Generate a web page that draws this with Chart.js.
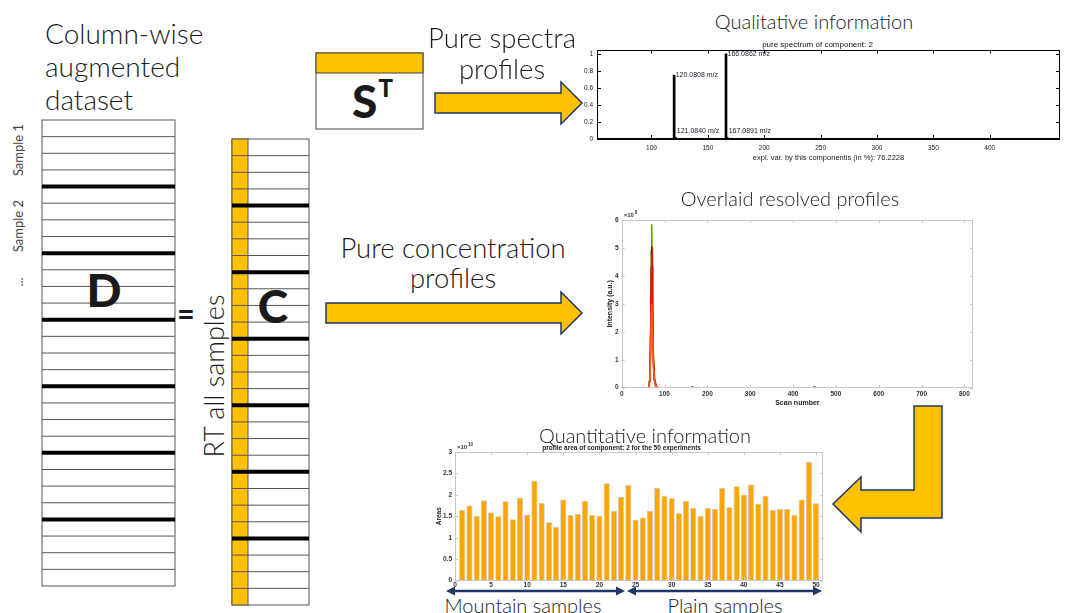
<!DOCTYPE html>
<html><head><meta charset="utf-8">
<script src="https://cdn.jsdelivr.net/npm/chart.js@4.4.1/dist/chart.umd.min.js"></script>
<style>
html,body{margin:0;padding:0;background:#fff}
body{width:1066px;height:613px;overflow:hidden;position:relative;font-family:Lato,'Open Sans',sans-serif}
.t{position:absolute;white-space:nowrap;line-height:1;color:#1a1a1a;font-weight:300}
canvas{position:absolute}
svg{position:absolute;left:0;top:0}
</style></head><body>
<svg id="diag" width="1066" height="613"></svg>
<canvas id="c1" width="490" height="130" style="left:575px;top:40px;width:490px;height:130px"></canvas>
<canvas id="c2" width="390" height="205" style="left:590px;top:205px;width:390px;height:205px"></canvas>
<canvas id="c3" width="410" height="150" style="left:420px;top:440px;width:410px;height:150px"></canvas>
<script>
// ---------- DATA ----------
// Pure spectrum (component 2)
const specMz = [120.0808, 121.0840, 166.0862, 167.0891];
const specInt = [0.75, 0.02, 1.0, 0.02];
const specLabels = ['120.0808 m/z', '121.0840 m/z', '166.0862 m/z', '167.0891 m/z'];
const specXTicks = [100, 150, 200, 250, 300, 350, 400];
const specYTicks = [0, 0.2, 0.4, 0.6, 0.8, 1];

// Overlaid resolved concentration profiles (x1e8)
const scanOrange = [0, 63, 66, 68, 70, 72, 74, 77, 82, 820];
const intOrange  = [0, 0, 0.3, 1.6, 3.0, 2.0, 0.7, 0.15, 0, 0];
const scanRed    = [0, 63, 66, 68, 69, 70, 71, 72, 74, 77, 81, 85, 820];
const intRed     = [0, 0, 0.3, 2.2, 4.0, 4.8, 4.3, 2.9, 1.0, 0.3, 0.06, 0, 0];
const scanDarkRed= [0, 63, 66, 68, 69, 70, 71, 72, 74, 76, 80, 84, 820];
const intDarkRed = [0, 0, 0.35, 2.4, 4.3, 5.05, 4.4, 2.9, 1.0, 0.3, 0.05, 0, 0];
const scanGreen  = [0, 63, 66, 68, 69, 70, 71, 72, 74, 76, 79, 83, 820];
const intGreen   = [0, 0, 0.4, 2.6, 4.9, 5.85, 5.0, 3.3, 1.2, 0.35, 0.06, 0, 0];
const scanBlue   = [0, 160, 165, 170, 445, 450, 455, 820];
const intBlue    = [0, 0, 0.04, 0, 0, 0.04, 0, 0];
const profXTicks = [0, 100, 200, 300, 400, 500, 600, 700, 800];
const profYTicks = [0, 1, 2, 3, 4, 5, 6];

// Profile areas of component 2 for the 50 experiments (x1e10)
const experiments = [1,2,3,4,5,6,7,8,9,10,11,12,13,14,15,16,17,18,19,20,21,22,23,24,25,
  26,27,28,29,30,31,32,33,34,35,36,37,38,39,40,41,42,43,44,45,46,47,48,49,50];
const areas = [1.65,1.75,1.51,1.87,1.59,1.50,1.85,1.43,1.93,1.54,
  2.33,1.81,1.36,1.25,1.89,1.53,1.55,1.86,1.53,1.51,
  2.27,1.63,1.95,2.23,1.42,1.47,1.63,2.16,1.97,1.92,
  1.57,1.86,1.69,1.51,1.69,1.67,2.16,1.71,2.20,2.00,
  2.24,1.79,1.98,1.65,1.67,1.67,1.53,1.89,2.76,1.80];
const areaXTicks = [0, 5, 10, 15, 20, 25, 30, 35, 40, 45, 50];
const areaYTicks = [0, 0.5, 1, 1.5, 2, 2.5, 3];

// ---------- DIAGRAM (shapes) ----------
const NS = 'http://www.w3.org/2000/svg';
const svg = document.getElementById('diag');
function el(tag, attrs){ const e = document.createElementNS(NS, tag); for (const k in attrs) e.setAttribute(k, attrs[k]); svg.appendChild(e); return e; }
const YEL = '#FFC000', NAVY = '#1F3864';
function matrix(x, y, w, h, rows, yellowW){
  el('rect', {x, y, width:w, height:h, fill:'#fff', stroke:'#555', 'stroke-width':1});
  if (yellowW) el('rect', {x, y, width:yellowW, height:h, fill:YEL, stroke:'#555', 'stroke-width':1});
  const rh = h / rows;
  for (let i = 1; i < rows; i++){
    const yy = y + i * rh;
    const thick = i % 4 === 0;
    el('line', {x1:x, x2:x+w, y1:yy, y2:yy, stroke: thick ? '#000' : '#555', 'stroke-width': thick ? 4 : 1});
  }
}
matrix(42, 120, 133, 466, 28, 0);
matrix(232, 139, 77, 466, 28, 16);
// S^T box
el('rect', {x:316, y:53, width:107, height:76, fill:'#fff', stroke:'#444', 'stroke-width':1});
el('rect', {x:316, y:53, width:107, height:20, fill:YEL, stroke:'#444', 'stroke-width':1});
// arrows
function poly(pts){ el('polygon', {points: pts.map(p => p.join(',')).join(' '), fill:YEL, stroke:NAVY, 'stroke-width':1.5, 'stroke-linejoin':'miter'}); }
poly([[435,93],[561,93],[561,82],[582,103],[561,124],[561,113],[435,113]]);
poly([[326,303],[561,303],[561,292],[582,313],[561,334],[561,323],[326,323]]);
poly([[914,406],[942,406],[942,518],[861,518],[861,532],[833,504],[861,477],[861,490],[914,490]]);
// double-headed arrows under bar chart
function dbl(x1, x2, y){
  el('line', {x1:x1+6, x2:x2-6, y1:y, y2:y, stroke:NAVY, 'stroke-width':2.5});
  el('polygon', {points:`${x1},${y} ${x1+9},${y-4.5} ${x1+9},${y+4.5}`, fill:NAVY});
  el('polygon', {points:`${x2},${y} ${x2-9},${y-4.5} ${x2-9},${y+4.5}`, fill:NAVY});
}
dbl(446, 625, 591);
dbl(627, 822, 591);

// ---------- TEXT ----------
function T(text, x, y, size, o = {}){
  const d = document.createElement('div');
  d.className = 't';
  d.innerHTML = text;
  d.style.fontSize = size + 'px';
  if (o.weight) d.style.fontWeight = o.weight;
  if (o.color) d.style.color = o.color;
  const ax = o.left ? '0' : '-50%';
  d.style.left = x + 'px'; d.style.top = y + 'px';
  d.style.transform = `translate(${ax},-50%)` + (o.rot ? ` rotate(${o.rot}deg)` : '');
  document.body.appendChild(d);
  return d;
}
T('Column-wise', 45, 33, 28, {left:true});
T('augmented', 45, 66, 28, {left:true});
T('dataset', 45, 99, 28, {left:true});
T('Sample 1', 18, 150, 13, {rot:-90, weight:400, color:'#444'});
T('Sample 2', 18, 226, 13, {rot:-90, weight:400, color:'#444'});
T('...', 18, 282, 13, {rot:-90, weight:400, color:'#444'});
T('D', 104, 290, 46, {weight:900});
T('=', 186, 313, 30, {weight:900});
T('C', 273, 306, 46, {weight:900});
T('RT all samples', 213, 376, 27, {rot:-90});
T('S<span style="font-size:24px;vertical-align:top;position:relative;top:-2px;left:1px">T</span>', 372, 101, 46, {weight:900});
T('Pure spectra', 502, 38, 27.5);
T('profiles', 502, 69, 27.5);
T('Pure concentration', 453, 248, 27.5);
T('profiles', 453, 278, 27.5);
T('Qualitative information', 814, 21, 20);
T('Overlaid resolved profiles', 790, 198, 20);
T('Quantitative information', 645, 435, 20);
T('Mountain samples', 523, 605, 20);
T('Plain samples', 725, 605, 20);

// ---------- CHARTS ----------
const frameTicks = {
  id: 'frameTicks',
  afterDatasetsDraw(chart, args, o){
    const {ctx, chartArea:a, scales:{x, y}} = chart;
    ctx.save();
    ctx.strokeStyle = o.color; ctx.lineWidth = 1;
    ctx.beginPath();
    const L = o.len;
    x.ticks.forEach(t => { const p = Math.round(x.getPixelForValue(t.value)) + 0.5;
      ctx.moveTo(p, a.bottom); ctx.lineTo(p, a.bottom - L);
      ctx.moveTo(p, a.top); ctx.lineTo(p, a.top + L); });
    y.ticks.forEach(t => { const p = Math.round(y.getPixelForValue(t.value)) + 0.5;
      ctx.moveTo(a.left, p); ctx.lineTo(a.left + L, p);
      ctx.moveTo(a.right, p); ctx.lineTo(a.right - L, p); });
    ctx.stroke();
    ctx.strokeRect(Math.round(a.left) + 0.5, Math.round(a.top) + 0.5, Math.round(a.width) - 1, Math.round(a.height) - 1);
    if (o.bottomWidth){
      ctx.lineWidth = o.bottomWidth;
      ctx.beginPath(); ctx.moveTo(a.left, a.bottom); ctx.lineTo(a.right, a.bottom); ctx.stroke();
    }
    if (o.exp){
      ctx.fillStyle = '#333';
      ctx.font = 'bold 6px "Liberation Sans", Arial, sans-serif';
      ctx.textBaseline = 'alphabetic'; ctx.textAlign = 'left';
      ctx.fillText('\u00d7' + '10', a.left + 2, a.top - 3);
      ctx.font = 'bold 4.5px "Liberation Sans", Arial, sans-serif';
      ctx.fillText(o.exp, a.left + 13, a.top - 6);
    }
    ctx.restore();
  }
};
const fixTicks = arr => scale => { scale.ticks = arr.map(v => ({value: v})); };
const fixW = w => s => { s.width = w; };
const fixH = h => s => { s.height = h; };
const plain = v => String(v);
const noGrid = {display: false, drawTicks: false};

// Chart 1: spectrum
const peakLabels = {
  id: 'peakLabels',
  afterDatasetsDraw(chart){
    const {ctx, scales:{x, y}} = chart;
    ctx.save();
    ctx.font = '7px "Liberation Sans Narrow", "Liberation Sans", Arial, sans-serif';
    ctx.fillStyle = '#1a1a2a'; ctx.textBaseline = 'middle'; ctx.textAlign = 'left';
    specMz.forEach((m, i) => {
      const v = Math.max(specInt[i], 0.09);
      ctx.fillText(specLabels[i], x.getPixelForValue(m) + 1.5, y.getPixelForValue(v));
    });
    ctx.restore();
  }
};
const tickFont1 = {family: '"Liberation Sans Narrow", "Liberation Sans", Arial, sans-serif', size: 6.5};
new Chart(document.getElementById('c1'), {
  type: 'bar',
  data: { datasets: [{ data: specMz.map((m, i) => ({x: m, y: specInt[i]})), backgroundColor: '#000', barThickness: 2 }] },
  options: {
    responsive: false, animation: false,
    layout: { padding: {left: 0, right: 5, top: 0, bottom: 0} },
    plugins: {
      legend: {display: false}, tooltip: {enabled: false},
      title: { display: true, text: 'pure spectrum of component: 2', color: '#111',
        font: {family: '"Liberation Sans Narrow", "Liberation Sans", Arial, sans-serif', size: 8, weight: 'normal'}, padding: {top: 0, bottom: 0} },
      frameTicks: { color: '#000', len: 4, bottomWidth: 2 }
    },
    scales: {
      x: { type: 'linear', min: 81, max: 433, afterBuildTicks: fixTicks(specXTicks), afterFit: fixH(31),
        grid: noGrid, border: {display: false},
        ticks: {color: '#222', font: tickFont1, padding: 5, maxRotation: 0, callback: plain},
        title: {display: true, text: 'expl. var. by this componentis (in %): 76.2228', color: '#222',
          font: {family: '"Liberation Sans", Arial, sans-serif', size: 7.5}, padding: {top: 0, bottom: 8}} },
      y: { min: 0, max: 1.05, afterBuildTicks: fixTicks(specYTicks), afterFit: fixW(22),
        grid: noGrid, border: {display: false},
        ticks: {color: '#222', font: tickFont1, padding: 4, callback: plain} }
    }
  },
  plugins: [frameTicks, peakLabels]
});

// Chart 2: overlaid profiles
const boldTick = {family: '"Liberation Sans", Arial, sans-serif', size: 6.5, weight: 'bold'};
const line = (xs, ys, color, w) => ({ data: xs.map((v, i) => ({x: v, y: ys[i]})), borderColor: color, borderWidth: w, pointRadius: 0, tension: 0, fill: false });
new Chart(document.getElementById('c2'), {
  type: 'line',
  data: { datasets: [
    line(scanOrange, intOrange, '#FF5A1A', 1.6),
    line(scanBlue, intBlue, '#2a4fbf', 1.2),
    line(scanRed, intRed, '#E8140C', 1.5),
    line(scanDarkRed, intDarkRed, '#8B0A05', 1.5),
    line(scanGreen, intGreen, '#5FA000', 1.5)
  ] },
  options: {
    responsive: false, animation: false,
    layout: { padding: {left: 0, right: 7, top: 15, bottom: 0} },
    plugins: { legend: {display: false}, tooltip: {enabled: false}, frameTicks: {color: '#c8c8c8', len: 3, exp: '8'} },
    scales: {
      x: { type: 'linear', min: 0, max: 820, afterBuildTicks: fixTicks(profXTicks), afterFit: fixH(22.3),
        grid: noGrid, border: {display: false},
        ticks: {color: '#333', font: boldTick, padding: 3, maxRotation: 0, callback: plain},
        title: {display: true, text: 'Scan number', color: '#222', font: {family: '"Liberation Sans", Arial, sans-serif', size: 7, weight: 'bold'}, padding: {top: 0, bottom: 3}} },
      y: { type: 'linear', min: 0, max: 6, afterBuildTicks: fixTicks(profYTicks), afterFit: fixW(31.7),
        grid: noGrid, border: {display: false},
        ticks: {color: '#333', font: boldTick, padding: 3, callback: plain},
        title: {display: true, text: 'Intensity (a.u.)', color: '#222', font: {family: '"Liberation Sans", Arial, sans-serif', size: 7, weight: 'bold'}, padding: {top: 16, bottom: 0}} }
    }
  },
  plugins: [frameTicks]
});

// Chart 3: profile areas
new Chart(document.getElementById('c3'), {
  type: 'bar',
  data: { datasets: [{ data: experiments.map((e, i) => ({x: e, y: areas[i]})), backgroundColor: '#FFA500', borderColor: '#c4c4c4', borderWidth: 0.8,
    categoryPercentage: 1, barPercentage: 0.85 }] },
  options: {
    responsive: false, animation: false,
    layout: { padding: {left: 0, right: 6.7, top: 0, bottom: 0} },
    plugins: {
      legend: {display: false}, tooltip: {enabled: false},
      title: { display: true, text: 'profile area of component: 2 for the 50 experiments', color: '#222',
        font: {family: '"Liberation Sans", Arial, sans-serif', size: 6.5, weight: 'bold'}, padding: {top: 4, bottom: 0} },
      frameTicks: {color: '#c8c8c8', len: 3, exp: '10'}
    },
    scales: {
      x: { type: 'linear', min: 0, max: 51, offset: false, afterBuildTicks: fixTicks(areaXTicks), afterFit: fixH(9.3),
        grid: noGrid, border: {display: false},
        ticks: {color: '#333', font: boldTick, padding: 1, maxRotation: 0, callback: plain} },
      y: { min: 0, max: 3, afterBuildTicks: fixTicks(areaYTicks), afterFit: fixW(35),
        grid: noGrid, border: {display: false},
        ticks: {color: '#333', font: boldTick, padding: 3, callback: plain},
        title: {display: true, text: 'Areas', color: '#222', font: {family: '"Liberation Sans", Arial, sans-serif', size: 6.5, weight: 'bold'}, padding: {top: 15, bottom: 0}} }
    }
  },
  plugins: [frameTicks]
});
</script>
</body></html>
